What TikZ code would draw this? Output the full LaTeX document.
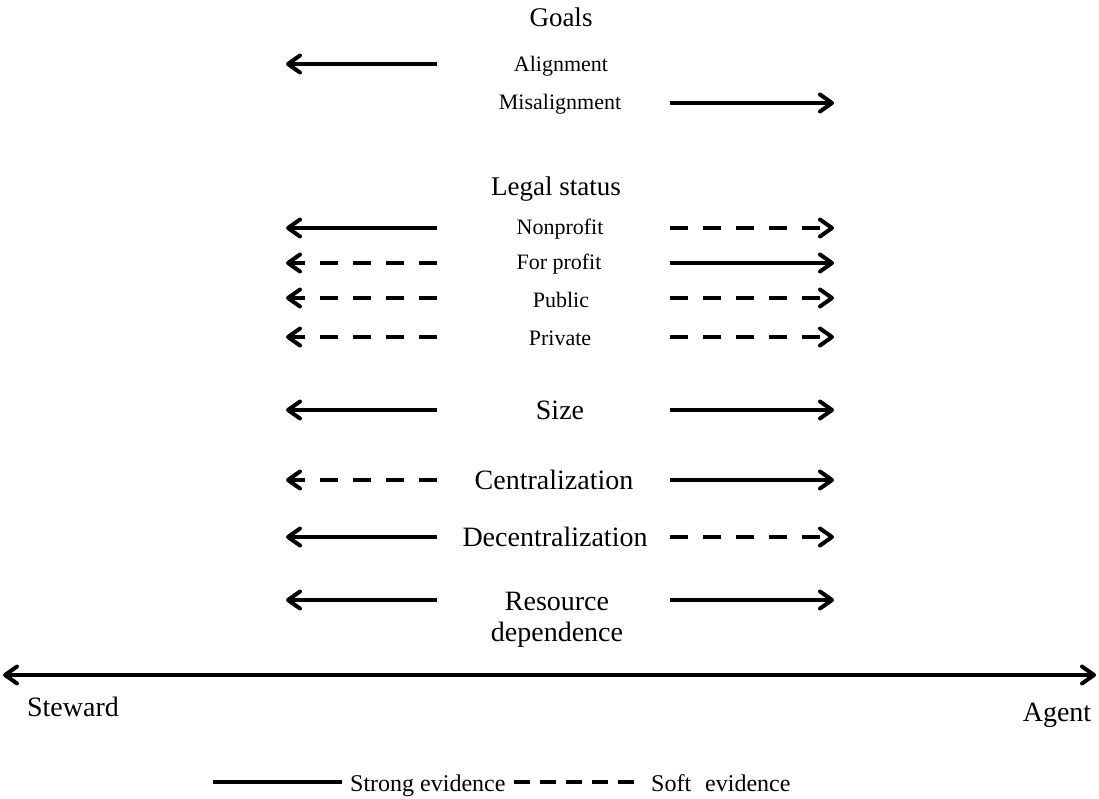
\documentclass[tikz,border=0pt]{standalone}
\usepackage{fontspec}
\setmainfont{Liberation Serif}
\usetikzlibrary{arrows.meta}
\tikzset{
  tip/.tip={Straight Barb[length=12pt,width=17pt,line width=4pt,line cap=round,line join=round]},
  arr/.style={line width=3.8pt, -tip},
  solidarr/.style={arr},
  dasharr/.style={arr, dash pattern=on 18pt off 15pt},
  head/.style={font=\fontsize{27}{30}\selectfont},
  sub/.style={font=\fontsize{22}{25}\selectfont},
  big/.style={font=\fontsize{28}{31}\selectfont, align=center},
  leg/.style={font=\fontsize{24}{27}\selectfont},
}
\begin{document}
\begin{tikzpicture}[x=1pt,y=-1pt]
\useasboundingbox (0,0) rectangle (1099,798);
% titles
\node[head] (goals) at (561,17) {Goals};
\node[sub] (align) at (561,66) {Alignment};
\node[sub] (misalign) at (560,104) {Misalignment};
\node[head] (legal) at (556,189) {Legal\ status};
\node[sub] (nonprofit) at (560,229) {Nonprofit};
\node[sub] (forprofit) at (559,264) {For profit};
\node[sub] (public) at (561,300) {Public};
\node[sub] (private) at (560,338) {Private};
\node[big] (size) at (560,410) {Size};
\node[big] (central) at (554,480) {Centralization};
\node[big] (decentral) at (555,537) {Decentralization};
\node[big] (resource) at (557,620) {Resource\\dependence};
% coordinates
\foreach \n/\y in {a/64,m/103,np/228,fp/263,pu/298,pr/337,si/410,ce/480,de/537,re/600}{
  \coordinate (\n L1) at (437,\y);
  \coordinate (\n L2) at (286,\y);
  \coordinate (\n R1) at (670,\y);
  \coordinate (\n R2) at (834,\y);
}
\draw[solidarr] (aL1) -- (aL2);
\draw[solidarr] (mR1) -- (mR2);
\draw[solidarr] (npL1) -- (npL2);
\draw[dasharr] (npR1) -- (npR2);
\draw[dasharr] (fpL1) -- (fpL2);
\draw[solidarr] (fpR1) -- (fpR2);
\draw[dasharr] (puL1) -- (puL2);
\draw[dasharr] (puR1) -- (puR2);
\draw[dasharr] (prL1) -- (prL2);
\draw[dasharr] (prR1) -- (prR2);
\draw[solidarr] (siL1) -- (siL2);
\draw[solidarr] (siR1) -- (siR2);
\draw[dasharr] (ceL1) -- (ceL2);
\draw[solidarr] (ceR1) -- (ceR2);
\draw[solidarr] (deL1) -- (deL2);
\draw[dasharr] (deR1) -- (deR2);
\draw[solidarr] (reL1) -- (reL2);
\draw[solidarr] (reR1) -- (reR2);
% axis
\coordinate (axL) at (3,675);
\coordinate (axR) at (1096,675);
\draw[line width=3.8pt, tip-tip] (axL) -- (axR);
\node[big] (steward) at (73,707) {Steward};
\node[big] (agent) at (1057,715) {Agent};
% legend
\coordinate (ls1) at (213,782);
\coordinate (ls2) at (342,782);
\coordinate (ld1) at (514,782);
\coordinate (ld2) at (634,782);
\draw[line width=3.8pt] (ls1) -- (ls2);
\draw[line width=3.8pt, dash pattern=on 16pt off 10pt] (ld1) -- (ld2);
\node[leg, anchor=base west, inner sep=0pt] (strong) at (350,791) {Strong evidence};
\node[leg, anchor=base west, inner sep=0pt] (soft) at (651,791) {Soft\hspace{14pt}evidence};
\end{tikzpicture}
\end{document}
